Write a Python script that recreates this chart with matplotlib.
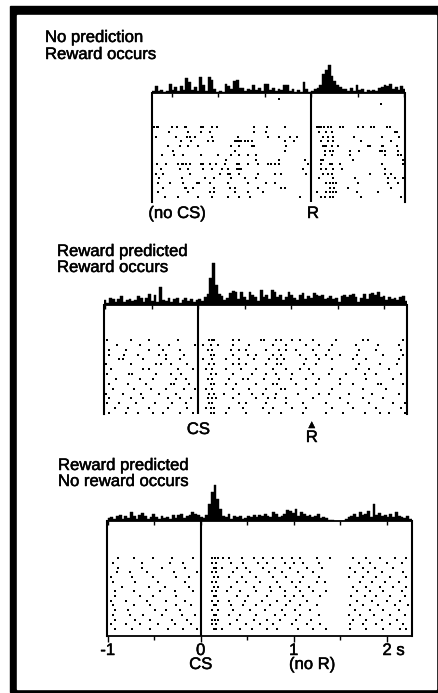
import numpy as np
import matplotlib.pyplot as plt
from matplotlib.patches import Rectangle
from matplotlib import transforms
import matplotlib.patheffects as pe

plt.rcParams['font.family'] = ['Liberation Sans', 'DejaVu Sans']

W, H = 438, 693
BIN = 0.03  # 直方图 bin 宽度 (s)

# ---- 面板1: No prediction / Reward occurs (时间相对 R) ----
hist1_start = -1.71
hist1 = [2, 7, 2, 3, 1, 2, 9, 3, 6, 2, 7, 3, 15, 11, 3, 6, 2, 16, 8, 2,
         16, 13, 4, 1, 2, 1, 9, 7, 4, 12, 13, 5, 5, 2, 4, 3, 8, 3, 5, 2,
         9, 9, 3, 5, 2, 4, 3, 8, 8, 2, 4, 1, 3, 1, 11, 4, 1, 2, 4, 5,
         8, 19, 23, 28, 17, 12, 8, 6, 4, 4, 2, 5, 2, 8, 3, 4, 1, 3, 2, 3,
         2, 5, 6, 8, 7, 9, 4, 6, 3, 7, 4]
raster1 = [
    [-0.35],
    [0.75],
    [], [], [], [],
    [-1.69, -1.66, -1.65, -1.50, -1.44, -1.36, -1.34, -1.18, -1.16, -1.07, -1.01, -0.61, -0.47, -0.28,
     0.06, 0.09, 0.11, 0.14, 0.18, 0.21, 0.31, 0.34, 0.51, 0.56, 0.64, 0.68, 0.82, 0.85],
    [-1.53, -1.32, -1.18, -1.09, -0.61, -0.48, 0.09, 0.16, 0.22, 0.90, 0.92],
    [-1.67, -1.45, -1.33, -1.30, -1.25, -1.07, -0.79, -0.46, -0.34, -0.23, -0.15,
     0.13, 0.18, 0.24, 0.46, 0.76, 0.95],
    [-1.40, -1.29, -1.11, -1.05, -0.82, -0.80, -0.78, -0.75, -0.71, -0.68, -0.63, -0.28, -0.18,
     0.11, 0.18, 0.24, 0.54, 0.86],
    [-1.54, -1.41, -1.32, -1.22, -0.86, -0.78, -0.64, -0.61, -0.27,
     0.13, 0.15, 0.16, 0.22, 0.29, 0.61, 0.63, 0.76, 0.77, 0.92],
    [-1.48, -0.82, -0.28, 0.15, 0.20, 0.24, 0.42, 0.52, 0.74, 0.76, 0.79, 0.94],
    [-1.60, -1.47, -1.38, -1.18, -1.00, -0.86, -0.78, -0.68, -0.59,
     0.15, 0.22, 0.42, 0.79, 0.94, 0.97],
    [-0.91, -0.59, -0.35, -0.07, 0.11, 0.13, 0.45, 0.99],
    [-1.66, -1.56, -1.43, -1.39, -1.38, -1.34, -1.30, -1.18, -1.16, -1.09, -1.02, -0.93, -0.80, -0.77,
     -0.68, -0.57, -0.46, -0.43, -0.39, -0.34, -0.03, 0.11, 0.20, 0.22, 0.31, 0.76, 0.99],
    [-1.61, -1.41, -1.32, -1.16, -1.07, -0.96, -0.89, -0.80, -0.78, -0.75, -0.09,
     0.11, 0.16, 0.24, 0.33, 0.79],
    [-1.67, -1.59, -1.30, -0.98, -0.89, -0.87, -0.77, -0.57, -0.39, -0.32, -0.05,
     0.13, 0.18, 0.22, 0.63, 0.79, 0.86],
    [-1.63, -1.39, -1.14, -1.04, -0.86, -0.71, -0.59, 0.09, 0.24, 0.47, 0.83, 0.90, 0.99],
    [-1.65, -1.52, -1.38, -1.23, -1.22, -1.20, -1.09, -0.89, -0.68, -0.48, -0.39,
     0.16, 0.20, 0.24, 0.27, 0.51, 0.83, 0.94],
    [-1.59, -1.36, -1.34, -1.27, -1.04, -0.87, -0.82, -0.57, -0.32, -0.28, 0.20, 0.25, 0.40, 0.86],
    [-1.65, -1.32, -1.09, -1.04, -0.82, -0.68, -0.52, 0.06, 0.16, 0.20, 0.24, 0.27, 0.49, 0.72],
    [-1.57, -1.43, -1.22, -1.07, -0.89, -0.78, -0.66, -0.12, 0.11, 0.15, 0.20, 0.24, 0.54, 0.97],
]

# ---- 面板2: Reward predicted / Reward occurs (时间相对 CS) ----
hist2_start = -1.02
hist2 = [5, 2, 7, 6, 3, 6, 9, 3, 5, 6, 4, 5, 9, 7, 3, 7, 11, 4, 10, 3,
         18, 5, 4, 7, 3, 6, 7, 2, 5, 7, 4, 6, 3, 5, 6, 4, 8, 11, 27, 42,
         20, 11, 9, 5, 7, 12, 14, 13, 6, 13, 8, 5, 13, 10, 8, 4, 15, 8, 10, 6,
         15, 13, 8, 10, 5, 8, 13, 10, 7, 5, 10, 12, 6, 9, 7, 12, 10, 9, 10, 6,
         7, 9, 6, 7, 3, 9, 10, 8, 10, 11, 8, 3, 7, 11, 6, 11, 12, 10, 13, 8,
         9, 5, 8, 6, 7, 5, 8, 9, 4]
raster2 = [
    [-0.98, -0.72, -0.53, -0.22, 0.12, 0.15, 0.17, 0.37, 0.44, 0.67, 0.71, 0.84, 0.89, 1.01, 1.09, 1.23, 1.48, 1.77, 1.82, 2.20],
    [-0.87, -0.63, -0.42, -0.31, -0.04, 0.05, 0.14, 0.21, 0.37, 0.55, 0.80, 0.94, 1.16, 1.30, 1.44, 1.70, 1.93, 2.16],
    [-0.96, -0.78, -0.53, -0.38, -0.20, 0.10, 0.15, 0.35, 0.44, 0.51, 0.73, 0.87, 0.94, 1.05, 1.23, 1.41, 1.73, 1.91, 2.18],
    [-0.96, -0.80, -0.65, -0.42, -0.35, -0.15, 0.14, 0.17, 0.37, 0.53, 0.62, 0.80, 0.89, 1.09, 1.27, 1.37, 1.52, 1.71, 1.98, 2.20],
    [-0.85, -0.81, -0.60, -0.35, -0.20, 0.05, 0.15, 0.30, 0.44, 0.60, 0.76, 0.85, 0.92, 1.16, 1.30, 1.44, 1.66, 1.80, 2.16],
    [-0.99, -0.72, -0.46, -0.40, -0.29, -0.12, 0.12, 0.17, 0.37, 0.44, 0.51, 0.73, 0.85, 0.89, 1.14, 1.27, 1.73, 1.95, 2.14],
    [-0.94, -0.60, -0.53, -0.22, -0.06, 0.08, 0.15, 0.30, 0.46, 0.62, 0.80, 0.94, 1.09, 1.19, 1.44, 1.70, 1.84, 2.05],
    [-0.98, -0.74, -0.71, -0.46, -0.29, -0.19, 0.14, 0.19, 0.37, 0.58, 0.73, 0.84, 1.01, 1.23, 1.41, 1.59, 1.79, 1.91, 2.18],
    [-0.89, -0.63, -0.49, -0.24, -0.13, 0.10, 0.15, 0.33, 0.48, 0.53, 0.71, 0.87, 1.00, 1.16, 1.30, 1.52, 1.80, 2.09],
    [-0.96, -0.76, -0.56, -0.29, -0.26, -0.10, 0.14, 0.17, 0.30, 0.41, 0.62, 0.80, 0.85, 1.05, 1.27, 1.52, 1.66, 1.93, 1.96, 2.20],
    [-0.92, -0.69, -0.51, -0.35, -0.15, -0.04, 0.08, 0.15, 0.37, 0.55, 0.73, 0.89, 0.93, 1.16, 1.44, 1.77, 2.02],
    [-0.99, -0.81, -0.62, -0.42, -0.24, 0.12, 0.17, 0.28, 0.44, 0.58, 0.69, 0.84, 1.07, 1.30, 1.41, 1.62, 1.87, 2.16],
    [-0.96, -0.72, -0.60, -0.33, -0.20, -0.08, 0.10, 0.15, 0.19, 0.37, 0.62, 0.75, 0.82, 0.94, 1.23, 1.52, 1.77, 1.98],
    [-0.98, -0.85, -0.67, -0.47, -0.28, -0.13, 0.12, 0.15, 0.44, 0.51, 0.73, 0.94, 1.12, 1.37, 1.61, 1.84, 2.09, 2.22],
    [-0.90, -0.76, -0.53, -0.33, -0.12, 0.08, 0.14, 0.17, 0.33, 0.48, 0.69, 0.80, 1.01, 1.16, 1.44, 1.66, 1.91, 2.18],
    [-0.96, -0.78, -0.65, -0.49, -0.38, -0.20, -0.06, 0.14, 0.17, 0.30, 0.51, 0.76, 0.89, 1.12, 1.37, 1.55, 1.79, 1.95, 2.05, 2.22],
]
reward_time2 = 1.22

# ---- 面板3: Reward predicted / No reward occurs (时间相对 CS) ----
hist3_start = -1.0
hist3 = [3, 4, 2, 5, 6, 2, 5, 3, 9, 5, 2, 6, 8, 5, 2, 4, 7, 4, 2, 5,
         3, 4, 2, 6, 3, 6, 7, 3, 5, 6, 9, 7, 6, 4, 3, 6, 17, 29, 36, 22,
         12, 5, 4, 7, 2, 5, 4, 5, 2, 3, 5, 4, 6, 4, 6, 5, 7, 5, 4, 9,
         7, 4, 5, 7, 11, 10, 8, 12, 5, 9, 7, 5, 6, 4, 5, 7, 3, 4, 3, 1,
         1, 0, 0, 0, 0, 2, 4, 5, 7, 4, 9, 6, 7, 10, 4, 17, 6, 8, 5, 6,
         4, 7, 4, 9, 5, 4, 3, 5, 2]
raster3 = [
    [-0.89, -0.72, -0.51, -0.31, -0.08, 0.12, 0.15, 0.19, 0.24, 0.30, 0.44, 0.57, 0.67, 0.78, 0.87, 0.98, 1.07, 1.25, 1.39, 1.64, 1.78, 1.93, 2.09, 2.21],
    [-0.94, -0.63, -0.33, -0.19, 0.12, 0.17, 0.33, 0.46, 0.62, 0.71, 0.91, 1.00, 1.10, 1.27, 1.70, 1.82, 2.00, 2.16],
    [-0.89, -0.63, -0.42, -0.17, 0.14, 0.17, 0.23, 0.39, 0.49, 0.67, 0.80, 0.96, 1.14, 1.30, 1.61, 1.75, 1.87, 2.07],
    [-0.90, -0.76, -0.58, -0.29, -0.04, 0.12, 0.17, 0.35, 0.53, 0.73, 0.87, 1.05, 1.21, 1.66, 1.80, 1.95, 2.18],
    [-0.96, -0.74, -0.51, -0.26, -0.13, 0.14, 0.19, 0.30, 0.44, 0.60, 0.78, 0.92, 1.10, 1.27, 1.59, 1.75, 1.89, 2.04, 2.21],
    [-0.94, -0.71, -0.46, -0.17, 0.12, 0.17, 0.39, 0.49, 0.64, 0.82, 0.98, 1.07, 1.25, 1.34, 1.71, 1.84, 1.98, 2.13],
    [-0.85, -0.56, -0.38, -0.13, 0.14, 0.19, 0.33, 0.57, 0.75, 0.85, 1.03, 1.16, 1.64, 1.78, 1.93, 2.07, 2.21],
    [-0.92, -0.72, -0.44, -0.28, -0.08, 0.12, 0.17, 0.28, 0.42, 0.60, 0.76, 0.91, 1.07, 1.21, 1.35, 1.68, 1.82, 1.96, 2.16],
    [-0.92, -0.65, -0.51, -0.26, 0.14, 0.17, 0.39, 0.51, 0.71, 0.91, 1.00, 1.10, 1.28, 1.62, 1.77, 1.89, 2.04, 2.20],
    [-0.96, -0.80, -0.58, -0.37, -0.17, 0.12, 0.19, 0.30, 0.48, 0.66, 0.82, 0.96, 1.14, 1.68, 1.84, 2.00, 2.14],
    [-0.94, -0.72, -0.54, -0.26, -0.10, 0.14, 0.17, 0.33, 0.46, 0.60, 0.75, 0.92, 1.07, 1.25, 1.61, 1.75, 1.91, 2.09, 2.23],
    [-0.92, -0.78, -0.49, -0.37, -0.22, 0.12, 0.19, 0.35, 0.53, 0.69, 0.87, 1.01, 1.18, 1.66, 1.82, 1.96, 2.13],
    [-0.94, -0.76, -0.62, -0.42, -0.20, -0.06, 0.14, 0.17, 0.30, 0.42, 0.60, 0.80, 0.91, 1.07, 1.27, 1.59, 1.71, 1.86, 2.04, 2.20],
    [-0.92, -0.71, -0.54, -0.31, -0.15, 0.12, 0.15, 0.19, 0.39, 0.57, 0.71, 0.85, 1.03, 1.19, 1.64, 1.78, 1.95, 2.11],
    [-0.96, -0.80, -0.65, -0.46, -0.28, -0.10, 0.12, 0.17, 0.32, 0.49, 0.64, 0.78, 0.98, 1.14, 1.28, 1.61, 1.75, 1.89, 2.04, 2.18],
    [-0.92, -0.74, -0.54, -0.35, -0.19, -0.04, 0.14, 0.17, 0.23, 0.42, 0.55, 0.71, 0.82, 1.05, 1.21, 1.35, 1.61, 1.78, 1.96, 2.14, 2.21],
]
xticks3 = [-1, 0, 1, 2]
xticklabels3 = ['-1', '0', '1', '2 s']
reward_time3 = 1.2

FS = 12
INK = [pe.withStroke(linewidth=0.35, foreground='black')]  # 模拟扫描件偏粗的字
fig = plt.figure(figsize=(W / 100, H / 100), dpi=100)
fig.patch.set_facecolor('white')

# 黑色外框 (放在最底层)
fig.patches.append(Rectangle((10 / W, 1 - 692 / H), 427.5 / W, 686 / H,
                             transform=fig.transFigure, color='black', zorder=-2))
fig.patches.append(Rectangle((17 / W, 1 - 689 / H), 419 / W, 674 / H,
                             transform=fig.transFigure, color='white', zorder=-1))


def px_axes(l, t, r, b):
    return fig.add_axes([l / W, 1 - b / H, (r - l) / W, (b - t) / H])


def fy(y):
    return 1 - y / H


def title(x, ybase, s):
    fig.text(x / W, fy(ybase), s, fontsize=FS, path_effects=INK)


def label(ax, x, ybase, s, **kw):
    tr = transforms.blended_transform_factory(ax.transData, fig.transFigure)
    kw.setdefault('fontsize', FS)
    kw.setdefault('ha', 'center')
    ax.text(x, fy(ybase), s, transform=tr, va='baseline', clip_on=False,
            path_effects=INK, **kw)


def draw_panel(left, right, base, bottom, xlim, ylim, hist_start, hist, raster):
    # 直方图
    axh = px_axes(left, base - 45, right, base)
    edges = hist_start + BIN * np.arange(len(hist))
    axh.bar(edges, hist, width=BIN, align='edge', color='black',
            edgecolor='black', linewidth=0.3)
    axh.set_xlim(xlim)
    axh.set_ylim(0, 45)
    for s in ['top', 'left', 'right']:
        axh.spines[s].set_visible(False)
    axh.spines['bottom'].set_linewidth(1.3)
    axh.set_yticks([])
    ticks = np.arange(np.ceil(xlim[0] * 2) / 2, xlim[1], 0.5)
    axh.set_xticks(ticks)
    axh.tick_params(axis='x', direction='out', length=3, width=1, labelbottom=False)
    axh.patch.set_visible(False)

    # 光栅图
    axr = px_axes(left, base, right, bottom)
    for k, row in enumerate(raster):
        axr.plot(row, [-k] * len(row), 's', ms=1.6, color='black', mew=0)
    axr.axvline(0, color='black', lw=1.5)
    axr.set_xlim(xlim)
    axr.set_ylim(ylim)
    axr.spines['top'].set_visible(False)
    axr.spines['bottom'].set_visible(False)
    axr.spines['left'].set_linewidth(1.5)
    axr.spines['right'].set_linewidth(1.5)
    axr.set_xticks([])
    axr.set_yticks([])
    axr.patch.set_visible(False)
    return axh, axr


# 面板1
h1, r1 = draw_panel(152, 405, 93, 202, (-1.71, 1.01), (-22.08, 1.38),
                    hist1_start, hist1, raster1)
title(45, 42, 'No prediction')
title(45, 59, 'Reward occurs')
label(r1, -1.44, 218, '(no CS)')
label(r1, 0.02, 218, 'R')

# 面板2
h2, r2 = draw_panel(104, 406.7, 305, 414, (-1.014, 2.24), (-15.2, 7.19),
                    hist2_start, hist2, raster2)
title(57, 256, 'Reward predicted')
title(57, 272, 'Reward occurs')
label(r2, 0, 434, 'CS')
label(r2, reward_time2, 427, '▲', fontsize=6, family=['DejaVu Sans'])
label(r2, reward_time2, 442, 'R')

# 面板3
h3, r3 = draw_panel(107.3, 412.3, 520.7, 636, (-1.004, 2.276), (-16.49, 7.98),
                    hist3_start, hist3, raster3)
r3.spines['bottom'].set_visible(True)
r3.spines['bottom'].set_linewidth(1.3)
r3.set_xticks(xticks3)
r3.set_xticks([-0.5, 0.5, 1.5], minor=True)
r3.tick_params(axis='x', which='major', direction='out', length=4, width=1, labelbottom=False)
r3.tick_params(axis='x', which='minor', direction='out', length=3, width=1)
for t, s in zip(xticks3, xticklabels3):
    if s.endswith(' s'):
        label(r3, t - 0.045, 655, s, ha='left')
    else:
        label(r3, t, 655, s)
label(r3, 0, 669, 'CS')
label(r3, reward_time3, 669, '(no R)')
title(58, 470, 'Reward predicted')
title(58, 486, 'No reward occurs')

fig.savefig('out.png', dpi=100)
